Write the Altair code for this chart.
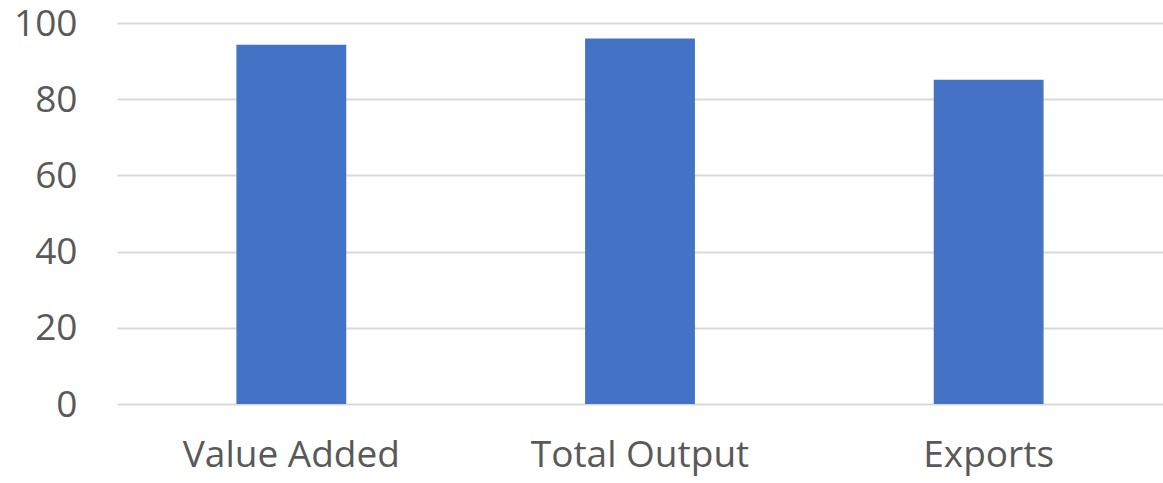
import altair as alt
import pandas as pd

# Category labels and bar values
categories = ["Value Added", "Total Output", "Exports"]
values = [94.3, 95.9, 85.1]

df = pd.DataFrame({"category": categories, "value": values})

bars = alt.Chart(df).mark_bar(color="#4472C4").encode(
    x=alt.X(
        "category:N",
        sort=categories,
        title=None,
        scale=alt.Scale(paddingInner=0.685, paddingOuter=0.3425),
        axis=alt.Axis(
            labelAngle=0,
            labelFont="Open Sans",
            labelFontSize=37,
            labelColor="#595959",
            labelPadding=33,
            labelLimit=0,
            ticks=False,
            domain=False,
            grid=False,
        ),
    ),
    y=alt.Y(
        "value:Q",
        title=None,
        scale=alt.Scale(domain=[0, 100], nice=False),
        axis=alt.Axis(
            values=[0, 20, 40, 60, 80, 100],
            labelFont="Open Sans",
            labelFontSize=37,
            labelColor="#595959",
            labelPadding=40,
            labelOffset=1,
            ticks=False,
            domain=False,
            gridColor="#d9d9d9",
            gridWidth=2,
        ),
    ),
)

chart = bars.properties(
    width=1046,
    height=381,
    autosize=alt.AutoSizeParams(type="none"),
    padding={"left": 117, "top": 23, "right": 0, "bottom": 79},
).configure_view(stroke=None)

chart.save("out.html", embed_options={"renderer": "svg", "actions": False})
